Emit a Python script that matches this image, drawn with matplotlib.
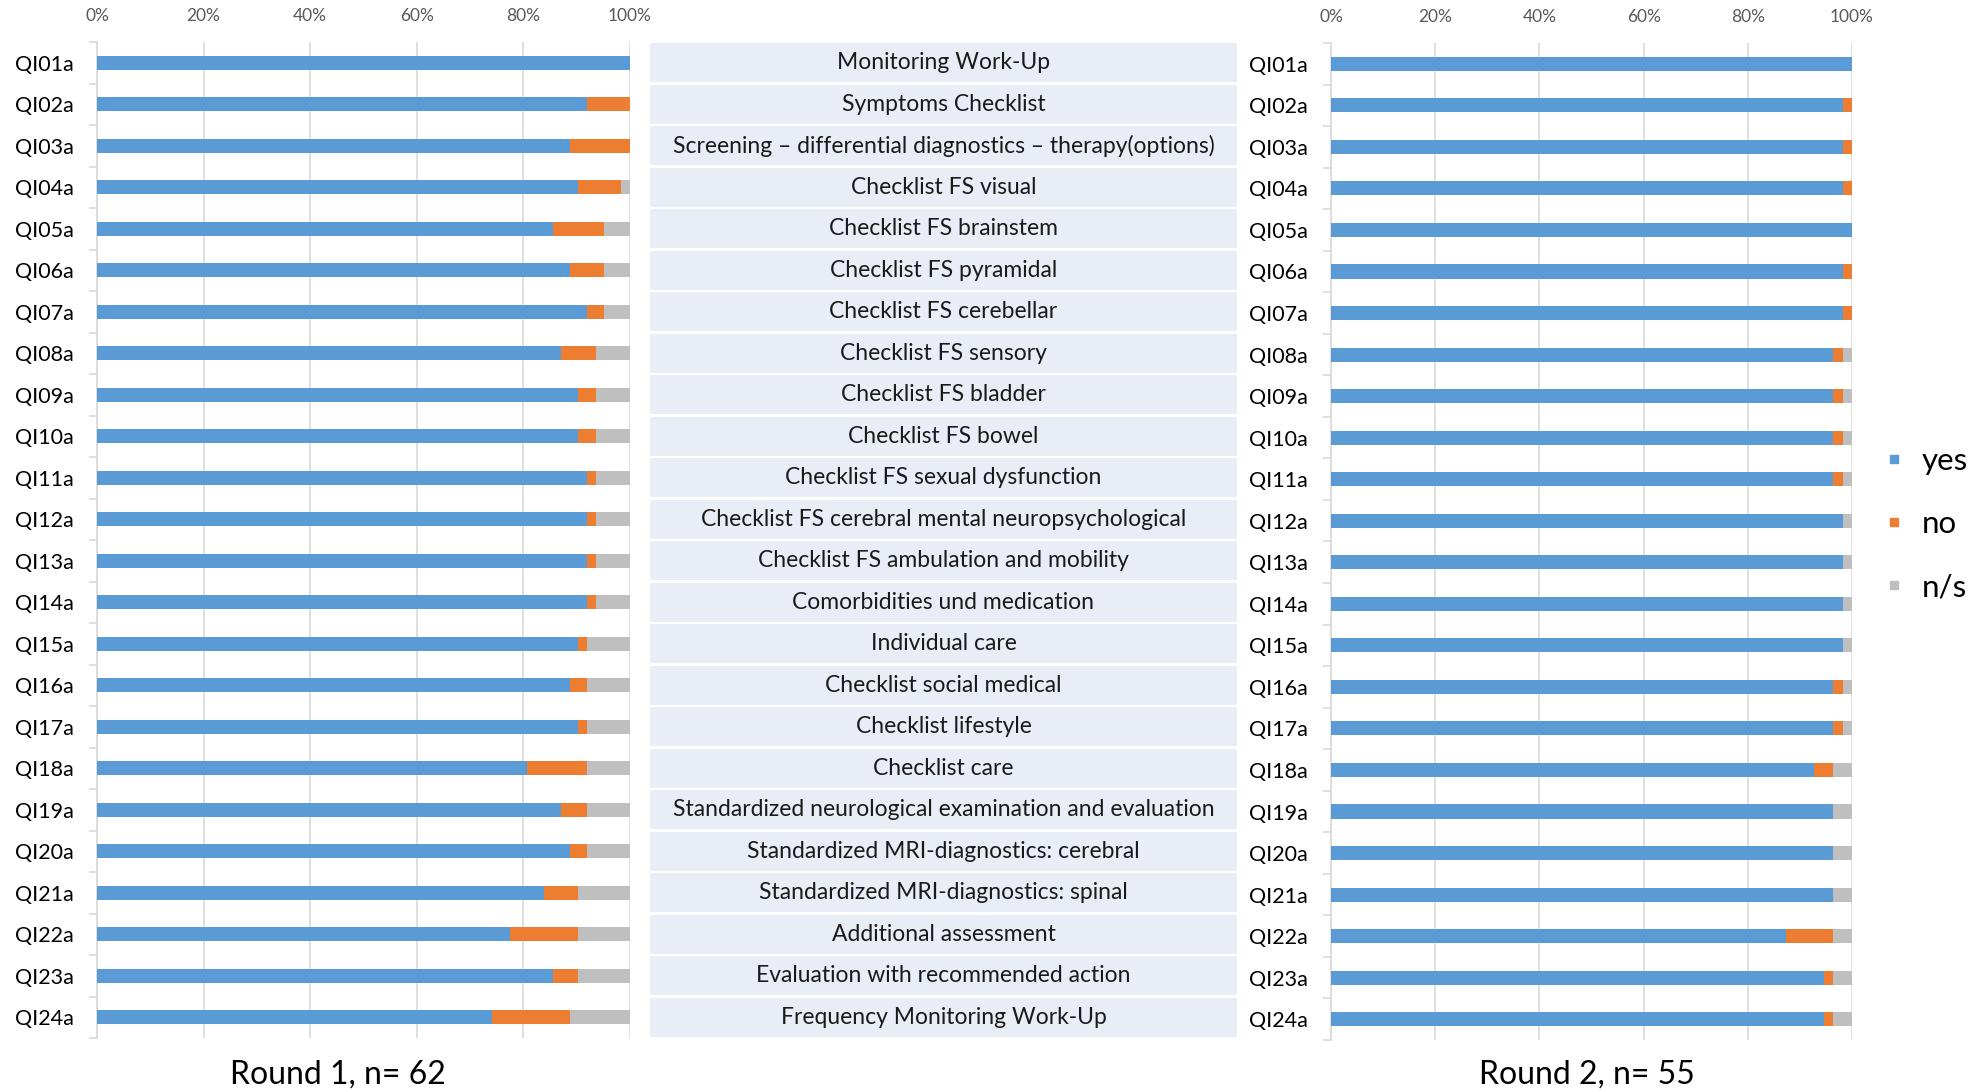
import numpy as np
import matplotlib.pyplot as plt
from matplotlib.lines import Line2D
from matplotlib.ticker import FixedLocator, PercentFormatter

plt.rcParams['font.family'] = ['Lato', 'DejaVu Sans']

# quality indicators
labels = ["QI%02da" % i for i in range(1, 25)]
descriptions = [
    "Monitoring Work-Up",
    "Symptoms Checklist",
    "Screening \u2013 differential diagnostics \u2013 therapy(options)",
    "Checklist FS visual",
    "Checklist FS brainstem",
    "Checklist FS pyramidal",
    "Checklist FS cerebellar",
    "Checklist FS sensory",
    "Checklist FS bladder",
    "Checklist FS bowel",
    "Checklist FS sexual dysfunction",
    "Checklist FS cerebral mental neuropsychological",
    "Checklist FS ambulation and mobility",
    "Comorbidities und medication",
    "Individual care",
    "Checklist social medical",
    "Checklist lifestyle",
    "Checklist care",
    "Standardized neurological examination and evaluation",
    "Standardized MRI-diagnostics: cerebral",
    "Standardized MRI-diagnostics: spinal",
    "Additional assessment",
    "Evaluation with recommended action",
    "Frequency Monitoring Work-Up",
]

# round 1, n = 62 (counts)
n1 = 62
yes1 = [62, 57, 55, 56, 53, 55, 57, 54, 56, 56, 57, 57, 57, 57, 56, 55, 56, 50, 54, 55, 52, 48, 53, 46]
no1 = [0, 5, 7, 5, 6, 4, 2, 4, 2, 2, 1, 1, 1, 1, 1, 2, 1, 7, 3, 2, 4, 8, 3, 9]
ns1 = [0, 0, 0, 1, 3, 3, 3, 4, 4, 4, 4, 4, 4, 4, 5, 5, 5, 5, 5, 5, 6, 6, 6, 7]

# round 2, n = 55 (counts)
n2 = 55
yes2 = [55, 54, 54, 54, 55, 54, 54, 53, 53, 53, 53, 54, 54, 54, 54, 53, 53, 51, 53, 53, 53, 48, 52, 52]
no2 = [0, 1, 1, 1, 0, 1, 1, 1, 1, 1, 1, 0, 0, 0, 0, 1, 1, 2, 0, 0, 0, 5, 1, 1]
ns2 = [0, 0, 0, 0, 0, 0, 0, 1, 1, 1, 1, 1, 1, 1, 1, 1, 1, 2, 2, 2, 2, 2, 2, 2]

c_yes = '#5B9BD5'
c_no = '#ED7D31'
c_ns = '#BFBFBF'
grid_c = '#D9D9D9'

W, H = 1975, 1092
fig = plt.figure(figsize=(W / 100, H / 100), dpi=100)


def stacked(ax, yes, no, ns, n):
    y = np.arange(len(labels))
    p_yes = np.array(yes) / n * 100
    p_no = np.array(no) / n * 100
    p_ns = np.array(ns) / n * 100
    ax.barh(y, p_yes, height=0.34, color=c_yes, zorder=3)
    ax.barh(y, p_no, left=p_yes, height=0.34, color=c_no, zorder=3)
    ax.barh(y, p_ns, left=p_yes + p_no, height=0.34, color=c_ns, zorder=3)
    ax.set_xlim(0, 100)
    ax.set_ylim(len(labels) - 0.5, -0.5)
    ax.set_xticks(np.arange(0, 101, 20))
    ax.xaxis.set_major_formatter(PercentFormatter(decimals=0))
    ax.xaxis.tick_top()
    ax.tick_params(axis='x', length=0, pad=13, labelsize=12.5, labelcolor='#595959')
    ax.set_yticks(y)
    ax.set_yticklabels(labels)
    ax.tick_params(axis='y', length=0, pad=17, labelsize=15.5)
    ax.yaxis.set_minor_locator(FixedLocator(np.arange(-0.5, len(labels), 1)))
    ax.tick_params(axis='y', which='minor', length=6, color=grid_c, width=1.2)
    ax.grid(axis='x', color=grid_c, lw=1.2, zorder=0)
    for s in ['top', 'right', 'bottom']:
        ax.spines[s].set_visible(False)
    ax.spines['left'].set_color(grid_c)
    ax.spines['left'].set_linewidth(1.2)


ax1 = fig.add_axes([97 / W, 1 - 1038 / H, (630 - 97) / W, (1038 - 42) / H])
stacked(ax1, yes1, no1, ns1, n1)

ax2 = fig.add_axes([1331 / W, 1 - 1040 / H, (1852 - 1331) / W, (1040 - 43) / H])
stacked(ax2, yes2, no2, ns2, n2)

# middle table of descriptions
axm = fig.add_axes([650 / W, 1 - 1038 / H, (1237 - 650) / W, (1038 - 42) / H])
ym = np.arange(len(descriptions))
axm.barh(ym, 1, height=0.94, color='#E9EDF5')
for i, d in enumerate(descriptions):
    axm.text(0.5, i, d, ha='center', va='center', fontsize=16.5, color='#1a1a1a')
axm.set_xlim(0, 1)
axm.set_ylim(len(descriptions) - 0.5, -0.5)
axm.axis('off')

fig.text(338 / W, 1 - 1075 / H, "Round 1, n= 62", ha='center', va='center', fontsize=23)
fig.text(1587 / W, 1 - 1075 / H, "Round 2, n= 55", ha='center', va='center', fontsize=23)

handles = [Line2D([], [], ls='none', marker='s', markersize=6, color=c)
           for c in (c_yes, c_no, c_ns)]
fig.legend(handles, ['yes', 'no', 'n/s'], loc='center left',
           bbox_to_anchor=(1856 / W, 1 - 524 / H), frameon=False,
           fontsize=22.5, handlelength=0.6, handletextpad=0.6, labelspacing=1.12)

fig.savefig('out.png', dpi=100)
